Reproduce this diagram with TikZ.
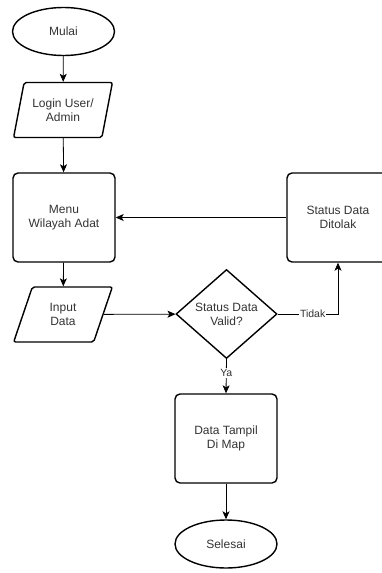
\documentclass[tikz,border=0pt]{standalone}
\usepackage{fontspec}
\setmainfont{Liberation Sans}
\usepackage{tikz}
\usepackage{xcolor}
\definecolor{txtgray}{rgb}{0.2,0.2,0.2}
\usetikzlibrary{shapes.geometric,arrows.meta}

\begin{document}
\begin{tikzpicture}[x=1pt, y=-1pt,
  every node/.style={text=txtgray, font=\fontsize{12}{14}\selectfont, align=center, inner sep=0pt},
  terminal/.style={ellipse, draw=black, line width=1.4pt, minimum width=102pt, minimum height=48pt},
  io/.style={trapezium, trapezium left angle=70, trapezium right angle=110, trapezium stretches=true, draw=black, line width=1.4pt, minimum width=99pt, minimum height=55pt, rounded corners=2pt},
  process/.style={rectangle, draw=black, line width=1.4pt, rounded corners=5pt, minimum width=102pt, minimum height=89pt},
  decision/.style={diamond, draw=black, line width=1.4pt, minimum width=101pt, minimum height=89pt},
  flow/.style={draw=black, line width=0.8pt, -{Stealth[length=8pt,width=7pt,inset=2pt]}},
  lbl/.style={fill=white, font=\fontsize{10.5}{12}\selectfont, inner sep=1pt}]
\useasboundingbox (0,0) rectangle (382,573);
\node[terminal] (mulai) at (63.5,31.5) {Mulai};
\node[io] (login) at (63,110) {Login User/\\Admin};
\node[process] (menu) at (64,217.5) {Menu\\Wilayah Adat};
\node[io] (input) at (63,314.5) {Input\\Data};
\node[decision] (valid) at (226.5,314) {Status Data\\Valid?};
\node[process] (ditolak) at (338,217.5) {Status Data\\Ditolak};
\node[process] (tampil) at (226,438.5) {Data Tampil\\Di Map};
\node[terminal] (selesai) at (226,544) {Selesai};
\draw[flow] (mulai) -- (login);
\draw[flow] (login) -- (menu);
\draw[flow] (ditolak) -- (menu);
\draw[flow] (menu) -- (input);
\draw[flow] (input) -- (valid);
\draw[flow] (valid.east) -| node[lbl, pos=0.29] {Tidak} (ditolak.south);
\draw[flow] (valid.south) -- node[lbl, pos=0.4] {Ya} (tampil.north);
\draw[flow] (tampil) -- (selesai);
\end{tikzpicture}
\end{document}
